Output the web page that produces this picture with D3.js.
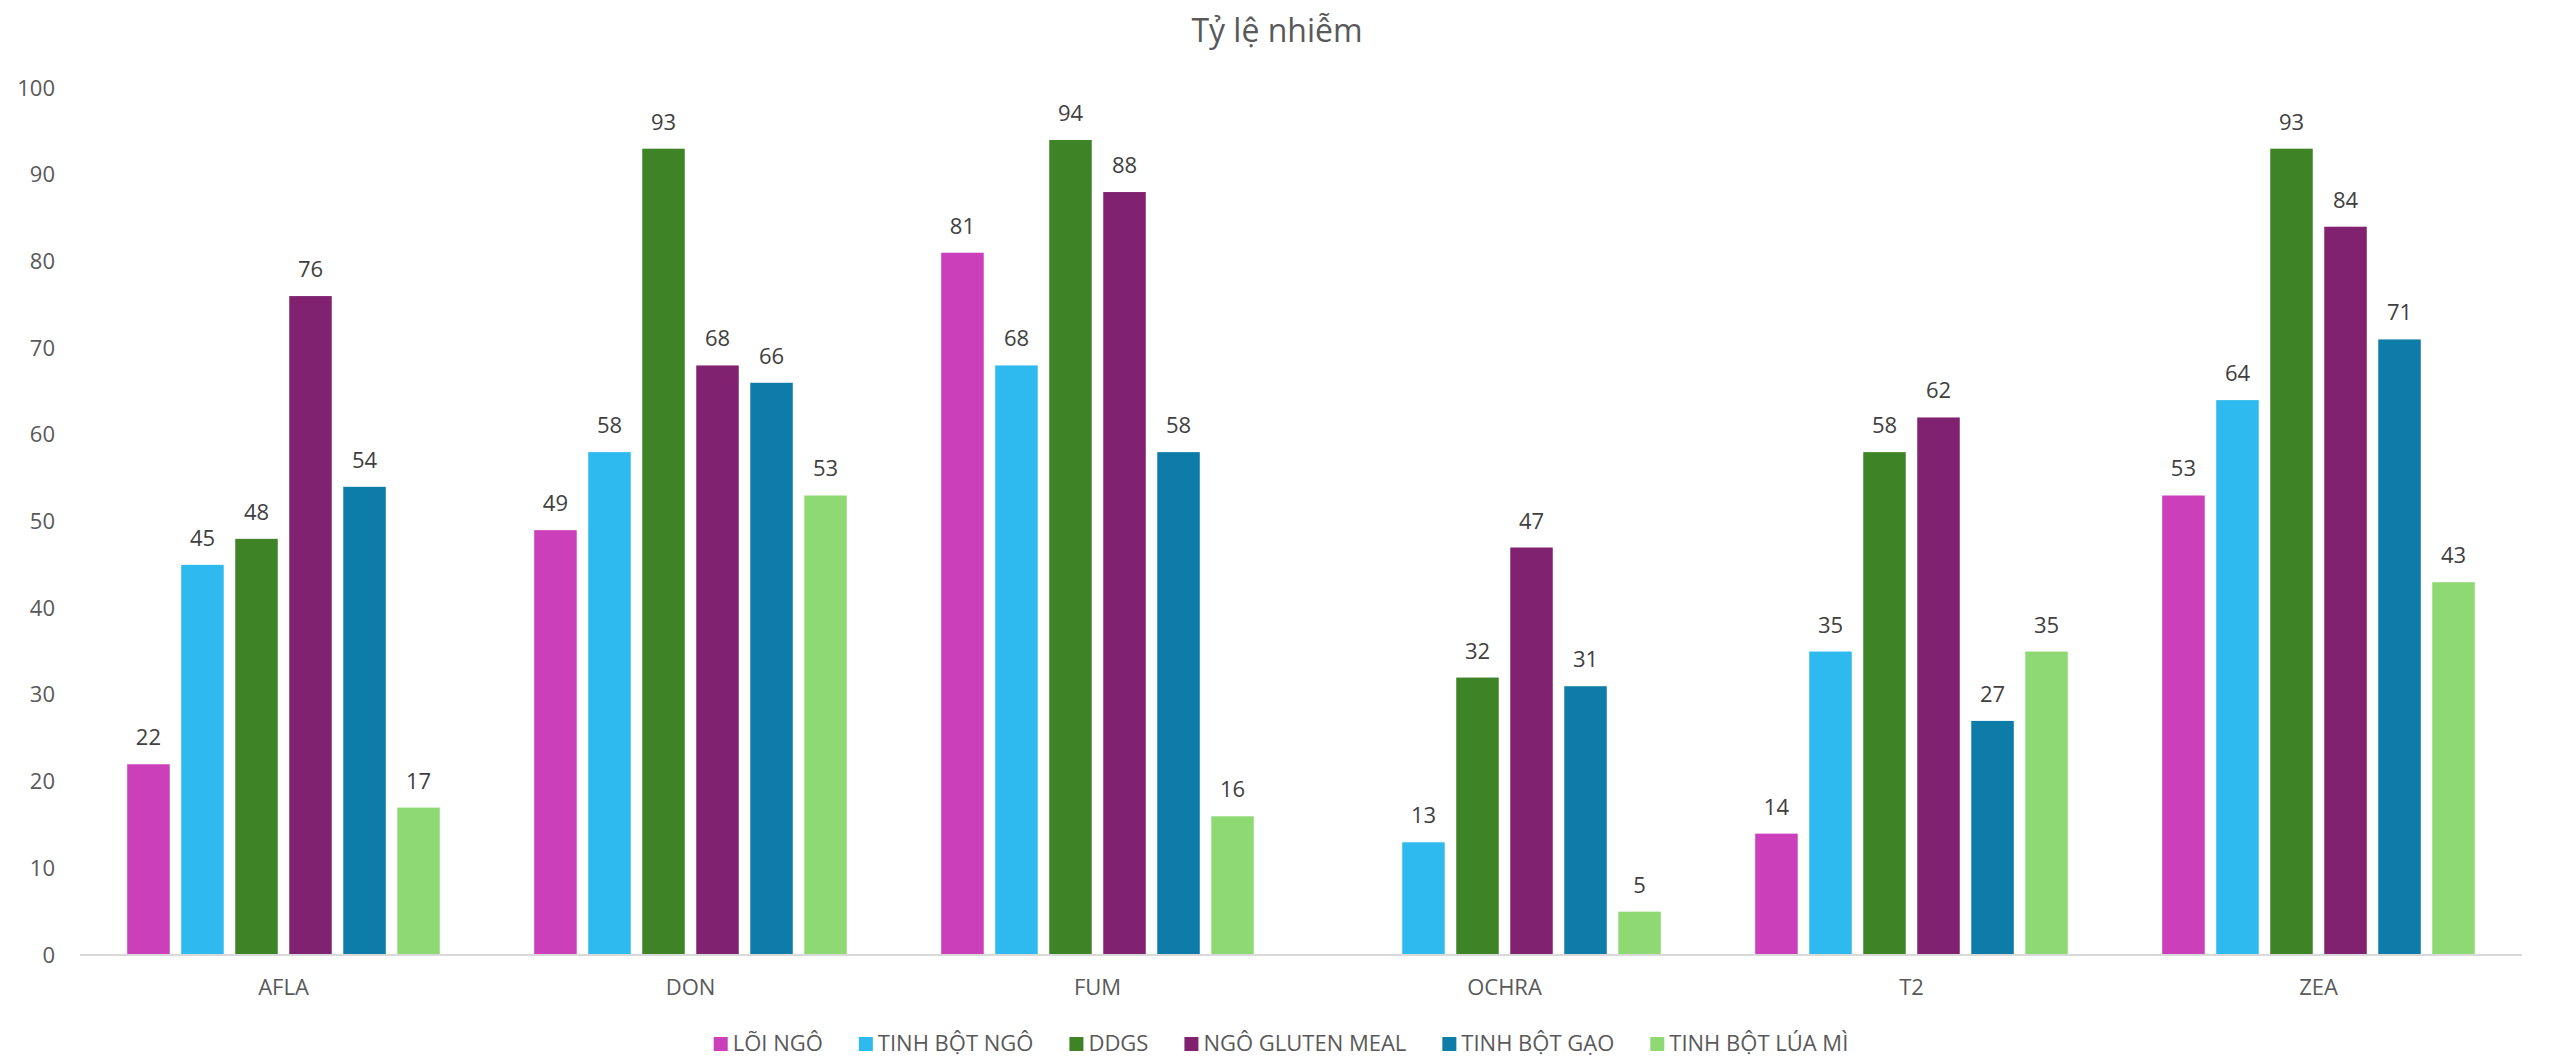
<!DOCTYPE html>
<html>
<head>
<meta charset="utf-8">
<script src="https://cdn.jsdelivr.net/npm/d3@7"></script>
<style>
  html, body { margin: 0; padding: 0; background: #fff; }
  svg { display: block; }
  text { font-family: "Open Sans", "Noto Sans", sans-serif; }
</style>
</head>
<body>
<svg id="chart" width="2559" height="1058"></svg>
<script>
// Mycotoxin groups along the x axis
const categories = ["AFLA", "DON", "FUM", "OCHRA", "T2", "ZEA"];

// Feed ingredients, one bar per group each
const seriesNames = ["LÕI NGÔ", "TINH BỘT NGÔ", "DDGS", "NGÔ GLUTEN MEAL", "TINH BỘT GẠO", "TINH BỘT LÚA MÌ"];
const seriesColors = ["#CB3FBA", "#2EBAEF", "#3E8427", "#80226F", "#0D7CA8", "#8ED973"];

// Contamination rate (%) per ingredient, in category order; null = no data
const loiNgo        = [22, 49, 81, null, 14, 53];
const tinhBotNgo    = [45, 58, 68, 13, 35, 64];
const ddgs          = [48, 93, 94, 32, 58, 93];
const ngoGlutenMeal = [76, 68, 88, 47, 62, 84];
const tinhBotGao    = [54, 66, 58, 31, 27, 71];
const tinhBotLuaMi  = [17, 53, 16, 5, 35, 43];

const yTicks = [0, 10, 20, 30, 40, 50, 60, 70, 80, 90, 100];
const title = "Tỷ lệ nhiễm";

const seriesValues = [loiNgo, tinhBotNgo, ddgs, ngoGlutenMeal, tinhBotGao, tinhBotLuaMi];

const svg = d3.select("#chart");
const plot = { left: 80, right: 2522, top: 88, bottom: 955 };

const x0 = d3.scaleBand()
  .domain(categories)
  .range([plot.left, plot.right])
  .paddingInner(0.232)
  .paddingOuter(0.116);

const x1 = d3.scaleBand()
  .domain(seriesNames)
  .range([0, x0.bandwidth()])
  .paddingInner(0.213)
  .paddingOuter(0);

const y = d3.scaleLinear().domain([0, 100]).range([plot.bottom, plot.top]);

// Title
svg.append("text")
  .attr("x", 1277)
  .attr("y", 42)
  .attr("text-anchor", "middle")
  .attr("fill", "#595959")
  .attr("font-size", 32)
  .text(title);

// Y axis labels (no axis line, no gridlines)
const yAxis = d3.axisLeft(y).tickValues(yTicks).tickSize(0).tickPadding(0);
const yG = svg.append("g").attr("transform", `translate(55,0)`).call(yAxis);
yG.select(".domain").remove();
yG.selectAll("text")
  .attr("fill", "#595959")
  .attr("font-size", 22)
  .attr("font-family", "'Open Sans', 'Noto Sans', sans-serif");

// Bars with value labels
const groups = svg.append("g")
  .selectAll("g")
  .data(categories)
  .join("g")
  .attr("transform", d => `translate(${x0(d)},0)`);

const rows = ci => seriesNames.map((s, si) => ({ s, si, v: seriesValues[si][ci] }));

groups.each(function (c, ci) {
  const g = d3.select(this);
  const items = rows(ci).filter(d => d.v != null);
  g.selectAll("rect")
    .data(items)
    .join("rect")
    .attr("x", d => x1(d.s))
    .attr("y", d => y(d.v))
    .attr("width", x1.bandwidth())
    .attr("height", d => y(0) - y(d.v))
    .attr("fill", d => seriesColors[d.si]);
  g.selectAll("text.val")
    .data(items)
    .join("text")
    .attr("class", "val")
    .attr("x", d => x1(d.s) + x1.bandwidth() / 2)
    .attr("y", d => y(d.v) - 19)
    .attr("text-anchor", "middle")
    .attr("fill", "#404040")
    .attr("font-size", 22)
    .text(d => d.v);
});

// X axis line and category labels
const xAxis = d3.axisBottom(x0).tickSize(0).tickPadding(0);
const xG = svg.append("g").attr("transform", `translate(0,${plot.bottom})`).call(xAxis);
xG.select(".domain").attr("stroke", "#D9D9D9").attr("stroke-width", 2)
  .attr("d", `M${plot.left},0H${plot.right}`);
xG.selectAll("text")
  .attr("fill", "#595959")
  .attr("font-size", 22)
  .attr("font-family", "'Open Sans', 'Noto Sans', sans-serif")
  .attr("dy", 0)
  .attr("y", 40);

// Legend, centred under the plot
const legend = svg.append("g");
const items = legend.selectAll("g").data(seriesNames).join("g");
items.append("rect")
  .attr("width", 14).attr("height", 14)
  .attr("y", -14)
  .attr("fill", (d, i) => seriesColors[i]);
items.append("text")
  .attr("x", 19)
  .attr("y", 0)
  .attr("fill", "#595959")
  .attr("font-size", 22)
  .text(d => d);
let cx = 0;
items.each(function () {
  const w = this.getBBox().width;
  d3.select(this).attr("transform", `translate(${cx},1051)`);
  cx += w + 36;
});
const total = cx - 36;
legend.attr("transform", `translate(${1281 - total / 2},0)`);
</script>
</body>
</html>
